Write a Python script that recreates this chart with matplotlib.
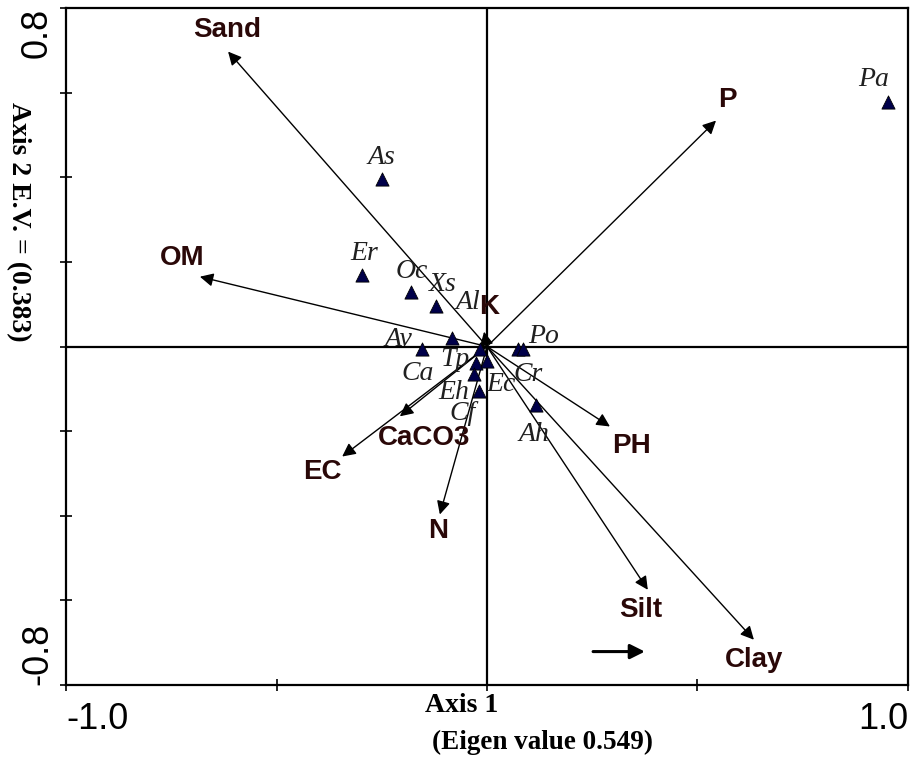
import matplotlib
matplotlib.use('Agg')
import matplotlib.pyplot as plt

# species scores (axis 1, axis 2)
species = ['Pa', 'As', 'Er', 'Oc', 'Xs', 'Al', 'Av', 'Tp', 'Ca',
           'Ec', 'Eh', 'Cf', 'Po', 'Cr', 'Ah']
sp_x = [0.952, -0.249, -0.297, -0.181, -0.121, -0.083, -0.154, -0.026, -0.017,
        0.000, -0.031, -0.019, 0.074, 0.086, 0.116]
sp_y = [0.577, 0.397, 0.170, 0.128, 0.095, 0.021, -0.007, -0.038, -0.007,
        -0.035, -0.066, -0.106, -0.007, -0.007, -0.139]

# soil variables (biplot arrows)
env = ['Sand', 'P', 'OM', 'K', 'PH', 'Silt', 'Clay', 'N', 'EC', 'CaCO3']
env_x = [-0.615, 0.544, -0.682, -0.007, 0.292, 0.382, 0.634, -0.112, -0.344, -0.207]
env_y = [0.697, 0.534, 0.165, 0.035, -0.189, -0.575, -0.693, -0.397, -0.260, -0.165]

# label offsets in pixels (dx, dy up)
sp_off = {'Pa': (-14, 23), 'As': (-1, 21), 'Er': (2, 21), 'Oc': (1, 21),
          'Xs': (7, 22), 'Al': (16, 35), 'Av': (-24, 10), 'Tp': (-21, 3),
          'Ca': (-62, -24), 'Ec': (14, -23), 'Eh': (-20, -18), 'Cf': (-16, -22),
          'Po': (25, 13), 'Cr': (5, -25), 'Ah': (-2, -29)}
env_off = {'Sand': (-1, 22), 'P': (11, 21), 'OM': (-18, 19), 'K': (5, 25),
           'PH': (22, -20), 'Silt': (-7, -20), 'Clay': (0, -20), 'N': (-2, -17),
           'EC': (-20, -15), 'CaCO3': (24, -22)}

serif = 'Liberation Serif'
sans = 'Liberation Sans'
lab_col = '#2a0808'

fig = plt.figure(figsize=(9.13, 7.57), dpi=100)
ax = fig.add_axes([0.0723, 0.0951, 0.9222, 0.8943])
ax.set_xlim(-1.0, 1.0)
ax.set_ylim(-0.8, 0.8)

for s in ax.spines.values():
    s.set_linewidth(1.6)
ax.axhline(0, color='black', lw=1.6)
ax.axvline(0, color='black', lw=1.6)

# arrows from the origin
for name, x, y in zip(env, env_x, env_y):
    ax.annotate('', xy=(x, y), xytext=(0, 0),
                arrowprops=dict(arrowstyle='-|>', color='black', lw=1.0,
                                mutation_scale=20, shrinkA=0, shrinkB=0))
    dx, dy = env_off[name]
    ax.annotate(name, xy=(x, y), xytext=(dx, dy), textcoords='offset pixels',
                ha='center', va='center', fontsize=20, fontweight='bold',
                family=sans, color=lab_col)

# species triangles
ax.scatter(sp_x, sp_y, marker='^', s=90, facecolor='#00004a',
           edgecolor='black', linewidths=0.6, zorder=5)
for name, x, y in zip(species, sp_x, sp_y):
    dx, dy = sp_off[name]
    ax.annotate(name, xy=(x, y), xytext=(dx, dy), textcoords='offset pixels',
                ha='center', va='center', fontsize=20, style='italic',
                family=serif, color='#202020', zorder=6)

# scale arrow
ax.annotate('', xy=(0.375, -0.721), xytext=(0.252, -0.721),
            arrowprops=dict(arrowstyle='-|>', color='black', lw=2.2,
                            mutation_scale=22, shrinkA=0, shrinkB=0))

ax.set_xticks([-1.0, -0.5, 0.0, 0.5, 1.0])
ax.set_xticklabels(['-1.0', '', '', '', '1.0'])
ax.set_yticks([-0.8, -0.6, -0.4, -0.2, 0.0, 0.2, 0.4, 0.6, 0.8])
ax.set_yticklabels(['-0.8', '', '', '', '', '', '', '', '0.8'])
ax.tick_params(direction='inout', length=9, width=1.2, labelsize=26, pad=8)
for t in ax.get_xticklabels() + ax.get_yticklabels():
    t.set_family(sans)
xl = ax.get_xticklabels()
xl[0].set_ha('left')
xl[-1].set_ha('right')
yl = ax.get_yticklabels()
for t in yl:
    t.set_rotation(90)
    t.set_ha('center')
yl[0].set_va('bottom')
yl[-1].set_va('top')
ax.tick_params(axis='y', pad=16)

fig.text(18 / 913, 1 - 222 / 757, 'Axis 2 E.V. = (0.383)', rotation=-90,
         ha='center', va='center', fontsize=20, fontweight='bold', family=serif)
fig.text(425 / 913, 1 - 705 / 757, 'Axis 1', ha='left', va='center',
         fontsize=20, fontweight='bold', family=serif)
fig.text(432 / 913, 1 - 742 / 757, '(Eigen value 0.549)', ha='left', va='center',
         fontsize=19.5, fontweight='bold', family=serif)

fig.savefig('out.png', dpi=100)
